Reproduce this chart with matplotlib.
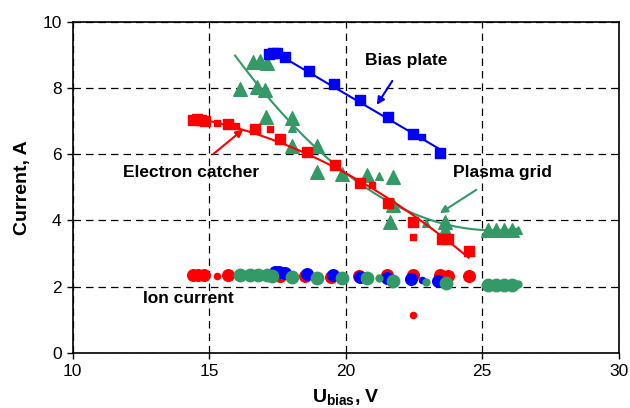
import matplotlib
matplotlib.use('Agg')
import matplotlib.pyplot as plt
import numpy as np

plt.rcParams['font.family'] = ['Liberation Sans', 'DejaVu Sans']
plt.rcParams['mathtext.fontset'] = 'custom'
plt.rcParams['mathtext.rm'] = 'Liberation Sans'
plt.rcParams['mathtext.bf'] = 'Liberation Sans:bold'

BLUE = '#0000ff'
RED = '#ff0000'
GREEN = '#339966'

# bias plate current (squares) and ion current measured with it (circles)
bias_x = [17.2, 17.35, 17.5, 17.78, 18.67, 19.57, 20.52, 21.54, 22.48, 23.45]
bias_y = [9.02, 9.06, 9.05, 8.92, 8.51, 8.11, 7.65, 7.13, 6.61, 6.03]
bias_x2 = [22.78]
bias_y2 = [6.51]
bias_ion_x = [17.4, 17.55, 17.78, 18.57, 19.55, 20.52, 21.5, 22.41, 23.39]
bias_ion_y = [2.43, 2.45, 2.42, 2.38, 2.36, 2.30, 2.25, 2.22, 2.17]
bias_ion_x2 = [22.78]
bias_ion_y2 = [2.2]

# electron catcher
ec_x = [14.4, 14.55, 14.7, 14.85, 15.7, 16.68, 17.6, 18.57, 19.6, 20.52,
        21.56, 22.48, 23.52, 23.76, 24.5]
ec_y = [7.03, 7.05, 7.02, 7.0, 6.91, 6.75, 6.46, 6.08, 5.67, 5.12,
        4.52, 3.96, 3.43, 3.43, 3.08]
ec_x2 = [15.27, 16.0, 17.23, 20.95, 22.48]
ec_y2 = [6.93, 6.85, 6.75, 5.07, 3.49]
ec_ion_x = [14.4, 14.6, 14.8, 15.7, 17.6, 18.5, 19.48, 20.5, 21.5, 22.48,
            23.45, 23.76, 24.5]
ec_ion_y = [2.35, 2.36, 2.34, 2.34, 2.32, 2.32, 2.30, 2.32, 2.35, 2.35,
            2.35, 2.32, 2.32]
ec_ion_x2 = [15.3, 22.45]
ec_ion_y2 = [2.32, 1.16]

# plasma grid
pg_x = [16.6, 16.86, 17.1, 16.13, 16.74, 17.04, 17.08, 18.02, 18.02, 18.94,
        18.94, 19.85, 20.77, 21.74, 21.74, 21.62, 23.63, 23.63,
        25.2, 25.5, 25.8, 26.1]
pg_y = [8.78, 8.80, 8.76, 7.96, 8.04, 7.93, 7.13, 7.08, 6.25, 6.25,
        5.47, 5.40, 5.37, 5.32, 4.47, 3.96, 3.96, 3.71,
        3.71, 3.72, 3.70, 3.71]
pg_x2 = [18.02, 21.22, 22.96, 26.3]
pg_y2 = [6.78, 5.34, 3.93, 3.7]
pg_ion_x = [16.13, 16.5, 16.8, 17.1, 17.3, 18.02, 18.94, 19.85, 20.79,
            21.74, 23.66, 25.2, 25.5, 25.8, 26.1]
pg_ion_y = [2.35, 2.35, 2.36, 2.34, 2.33, 2.30, 2.27, 2.25, 2.25,
            2.17, 2.10, 2.05, 2.06, 2.05, 2.06]
pg_ion_x2 = [21.22, 22.94, 26.3]
pg_ion_y2 = [2.25, 2.15, 2.07]

fig = plt.figure(figsize=(6.3, 4.08), dpi=100)
ax = fig.add_axes([0.1154, 0.1348, 0.8666, 0.812])


def trend(x, y, deg, x0, x1, color):
    p = np.polyfit(x, y, deg)
    xx = np.linspace(x0, x1, 100)
    ax.plot(xx, np.polyval(p, xx), color=color, lw=1.5, zorder=3)


# main currents
ax.scatter(pg_x, pg_y, marker='^', s=95, color=GREEN, zorder=2)
ax.scatter(pg_x2, pg_y2, marker='^', s=30, color=GREEN, zorder=2)
ax.scatter(ec_x, ec_y, marker='s', s=60, color=RED, zorder=4)
ax.scatter(ec_x2, ec_y2, marker='s', s=20, color=RED, zorder=4)
ax.scatter(bias_x, bias_y, marker='s', s=60, color=BLUE, zorder=4)
ax.scatter(bias_x2, bias_y2, marker='s', s=20, color=BLUE, zorder=4)
trend(pg_x, pg_y, 2, 15.95, 26.3, GREEN)
trend(ec_x, ec_y, 2, 14.5, 24.5, RED)
trend(bias_x, bias_y, 1, 17.4, 23.45, BLUE)

# ion currents
ax.scatter(ec_ion_x, ec_ion_y, marker='o', s=70, color=RED, zorder=5)
ax.scatter(ec_ion_x2, ec_ion_y2, marker='o', s=20, color=RED, zorder=5)
ax.scatter(bias_ion_x, bias_ion_y, marker='o', s=70, color=BLUE, zorder=5)
ax.scatter(bias_ion_x2, bias_ion_y2, marker='o', s=20, color=BLUE, zorder=5)
ax.scatter(pg_ion_x, pg_ion_y, marker='o', s=80, color=GREEN, zorder=6)
ax.scatter(pg_ion_x2, pg_ion_y2, marker='o', s=25, color=GREEN, zorder=6)

# labels with arrows
fs = 12.5
ax.annotate('Bias plate', xy=(21.14, 7.49), xytext=(22.2, 8.84),
            ha='center', va='center', fontsize=fs, fontweight='bold',
            arrowprops=dict(arrowstyle='-|>', color=BLUE, lw=1.5,
                            shrinkA=9, shrinkB=0, mutation_scale=11))
ax.annotate('Electron catcher', xy=(16.25, 6.75), xytext=(14.34, 5.46),
            ha='center', va='center', fontsize=fs, fontweight='bold',
            arrowprops=dict(arrowstyle='-|>', color=RED, lw=1.5,
                            shrinkA=9, shrinkB=0, mutation_scale=11))
ax.annotate('Plasma grid', xy=(23.45, 4.22), xytext=(25.76, 5.44),
            ha='center', va='center', fontsize=fs, fontweight='bold',
            arrowprops=dict(arrowstyle='-|>', color=GREEN, lw=1.5,
                            shrinkA=9, shrinkB=0, mutation_scale=11))
ax.text(14.23, 1.66, 'Ion current', ha='center', va='center',
        fontsize=fs, fontweight='bold')

ax.set_xlim(10, 30)
ax.set_ylim(0, 10)
ax.set_xticks([10, 15, 20, 25, 30])
ax.set_yticks([0, 2, 4, 6, 8, 10])
ax.tick_params(direction='out', length=4, width=1, labelsize=12.5, pad=4)
ax.grid(True, color='k', ls=(0, (6, 4)), lw=0.9)
ax.set_axisbelow(True)
for s in ax.spines.values():
    s.set_linewidth(1.2)
ax.set_ylabel('Current, A', fontsize=14, fontweight='bold', labelpad=8)
ax.set_xlabel(r'U$_{\mathbf{bias}}$, V', fontsize=14, fontweight='bold',
              labelpad=6)

fig.savefig('out.png', dpi=100)
